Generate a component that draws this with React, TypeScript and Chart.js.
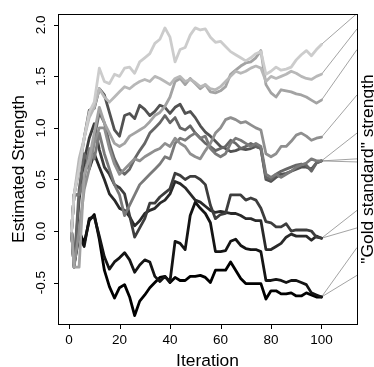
import { useEffect, useRef } from 'react';
import { Chart, registerables } from 'chart.js';

Chart.register(...registerables);

// Iteration numbers at which the estimates were read
const iterations = [1, 2, 4, 6, 8, 10, 12, 14, 16, 18, 20, 22, 24, 26, 28, 30, 32, 34, 36, 38, 40, 42, 44, 46, 48, 50, 52, 54, 56, 58, 60, 62, 64, 66, 68, 70, 72, 74, 76, 78, 80, 82, 84, 86, 88, 90, 92, 94, 96, 98, 100];

// Estimated strength per run (lightest first)
const run11 = [0, 0.35, 0.6, 0.9, 1.15, 1.25, 1.58, 1.45, 1.43, 1.52, 1.5, 1.58, 1.59, 1.53, 1.64, 1.68, 1.72, 1.82, 1.86, 1.97, 1.88, 1.64, 1.76, 1.78, 1.9, 1.97, 1.95, 1.96, 1.88, 1.83, 1.84, 1.79, 1.74, 1.71, 1.68, 1.65, 1.68, 1.72, 1.74, 1.52, 1.55, 1.59, 1.56, 1.57, 1.59, 1.66, 1.71, 1.75, 1.7, 1.76, 1.81];
const run10 = [0, 0.35, 0.7, 0.9, 1.1, 1.2, 1.38, 1.3, 1.25, 1.3, 1.35, 1.4, 1.38, 1.42, 1.45, 1.47, 1.45, 1.5, 1.48, 1.45, 1.42, 1.48, 1.5, 1.45, 1.47, 1.44, 1.4, 1.42, 1.38, 1.37, 1.4, 1.45, 1.5, 1.55, 1.53, 1.55, 1.58, 1.6, 1.58, 1.45, 1.5, 1.48, 1.5, 1.52, 1.55, 1.53, 1.5, 1.48, 1.47, 1.5, 1.52];
const run9 = [0, -0.35, -0.35, 0.55, 0.7, 0.95, 1.2, 1.05, 0.95, 0.85, 0.82, 0.85, 0.92, 0.95, 0.98, 1.01, 1.06, 1.12, 1.15, 1.21, 1.3, 1.45, 1.48, 1.42, 1.48, 1.43, 1.38, 1.42, 1.35, 1.34, 1.36, 1.4, 1.52, 1.56, 1.6, 1.63, 1.64, 1.68, 1.75, 1.42, 1.34, 1.3, 1.37, 1.36, 1.35, 1.33, 1.32, 1.3, 1.27, 1.24, 1.27];
const run8 = [0, -0.35, 0.0, 0.4, 0.6, 0.85, 1.0, 1.0, 0.8, 0.65, 0.55, 0.6, 0.65, 0.7, 0.68, 0.72, 0.75, 0.78, 0.8, 0.85, 0.82, 0.9, 0.85, 0.82, 0.75, 0.72, 0.7, 0.78, 0.85, 0.95, 1.0, 1.08, 1.1, 1.08, 1.05, 1.06, 1.03, 1.0, 0.98, 0.75, 0.72, 0.75, 0.82, 0.82, 0.87, 0.93, 0.95, 0.92, 0.88, 0.9, 0.91];
const run7 = [0, 0.35, 0.35, 0.5, 0.8, 0.7, 0.95, 0.75, 0.6, 0.45, 0.35, 0.15, 0.25, 0.35, 0.45, 0.5, 0.55, 0.6, 0.65, 0.72, 0.7, 0.85, 0.9, 0.88, 0.92, 0.95, 0.9, 0.92, 0.8, 0.75, 0.72, 0.75, 0.85, 0.9, 0.88, 0.85, 0.82, 0.85, 0.82, 0.55, 0.52, 0.55, 0.52, 0.55, 0.58, 0.62, 0.64, 0.66, 0.7, 0.68, 0.68];
const run6 = [0, -0.35, 0.4, 0.75, 0.65, 0.9, 1.15, 1.05, 0.85, 0.7, 0.6, 0.55, 0.6, 0.7, 0.78, 0.85, 0.95, 1.0, 1.05, 1.12, 1.05, 1.1, 1.0, 0.98, 1.02, 0.95, 0.9, 0.85, 0.82, 0.78, 0.8, 0.82, 0.88, 0.85, 0.8, 0.82, 0.85, 0.82, 0.8, 0.52, 0.5, 0.55, 0.58, 0.6, 0.62, 0.64, 0.65, 0.64, 0.58, 0.66, 0.68];
const run5 = [0, 0.35, 0.6, 0.9, 1.17, 1.19, 1.38, 1.32, 1.15, 0.98, 0.92, 1.12, 1.14, 1.09, 1.22, 1.18, 1.12, 1.16, 1.22, 1.2, 1.14, 1.2, 1.23, 1.14, 1.16, 1.1, 1.02, 0.96, 0.92, 0.87, 0.82, 0.8, 0.77, 0.78, 0.8, 0.79, 0.8, 0.82, 0.8, 0.5, 0.48, 0.52, 0.55, 0.56, 0.58, 0.6, 0.62, 0.62, 0.6, 0.66, 0.68];
const run4 = [0, -0.35, 0.3, 0.68, 0.9, 1.04, 0.79, 0.62, 0.55, 0.45, 0.42, 0.36, 0.15, -0.06, 0.03, 0.12, 0.27, 0.27, 0.33, 0.37, 0.41, 0.56, 0.54, 0.5, 0.53, 0.53, 0.5, 0.45, 0.25, 0.12, 0.16, 0.17, 0.35, 0.35, 0.35, 0.3, 0.32, 0.3, 0.22, 0.09, 0.08, 0.04, 0.04, 0.07, 0.0, 0.01, 0.01, 0.01, 0.0, -0.06, -0.07];
const run3 = [0, 0.35, 0.35, 0.7, 0.6, 0.75, 0.62, 0.5, 0.36, 0.3, 0.22, 0.2, 0.14, 0.05, 0.1, 0.17, 0.2, 0.22, 0.27, 0.3, 0.36, 0.48, 0.46, 0.42, 0.36, 0.3, 0.28, 0.24, 0.2, 0.18, 0.19, 0.18, 0.17, 0.17, 0.15, 0.12, 0.12, 0.1, 0.1, -0.18, -0.18, -0.15, -0.12, -0.06, -0.03, -0.05, -0.05, -0.05, -0.09, -0.05, -0.07];
const run2 = [0, -0.33, -0.05, -0.15, 0.12, 0.14, -0.05, -0.25, -0.37, -0.3, -0.26, -0.21, -0.28, -0.4, -0.33, -0.28, -0.3, -0.44, -0.49, -0.44, -0.49, -0.1, -0.12, -0.18, 0.15, 0.28, 0.22, 0.17, 0.08, -0.2, -0.2, -0.19, -0.1, -0.08, -0.14, -0.17, -0.18, -0.18, -0.2, -0.48, -0.48, -0.47, -0.48, -0.5, -0.48, -0.48, -0.5, -0.52, -0.6, -0.62, -0.64];
const run1 = [0, -0.33, 0.0, -0.12, 0.1, 0.16, -0.08, -0.38, -0.54, -0.65, -0.55, -0.52, -0.64, -0.82, -0.68, -0.62, -0.55, -0.5, -0.45, -0.44, -0.5, -0.45, -0.48, -0.48, -0.44, -0.44, -0.43, -0.45, -0.5, -0.38, -0.38, -0.38, -0.3, -0.38, -0.46, -0.51, -0.51, -0.51, -0.51, -0.66, -0.58, -0.58, -0.61, -0.61, -0.6, -0.63, -0.63, -0.6, -0.62, -0.64, -0.64];

const runs = [run11, run10, run9, run8, run7, run6, run5, run4, run3, run2, run1];
const runColors = ['#cccccc', '#b8b8b8', '#a3a3a3', '#8f8f8f', '#7a7a7a', '#666666', '#525252', '#3d3d3d', '#292929', '#141414', '#000000'];

// "Gold standard" strength for each run (same order)
const goldStandard = [2.11, 1.96, 1.76, 1.32, 0.95, 0.7, 0.67, 0.2, 0.03, -0.16, -0.43];

const xTicks = [0, 20, 40, 60, 80, 100];
const yTicks = [-0.5, 0, 0.5, 1, 1.5, 2];
const yTickLabels = ['-0.5', '0.0', '0.5', '1.0', '1.5', '2.0'];

const X_MIN = -4.36;
const X_MAX = 114.06;
const Y_MIN = -0.902;
const Y_MAX = 2.105;

const FONT = '"Liberation Sans", Arial, Helvetica, sans-serif';

const axesPlugin = {
  id: 'rAxes',
  afterDraw(chart: any) {
    const ctx = chart.ctx;
    const { left, top, right, bottom } = chart.chartArea;
    const xs = chart.scales.x;
    const ys = chart.scales.y;
    ctx.save();
    ctx.strokeStyle = '#000';
    ctx.lineWidth = 1;
    ctx.strokeRect(left + 0.5, top + 0.5, right - left, bottom - top);

    ctx.beginPath();
    xTicks.forEach((v) => {
      const px = Math.round(xs.getPixelForValue(v)) + 0.5;
      ctx.moveTo(px, bottom + 0.5);
      ctx.lineTo(px, bottom + 5);
    });
    yTicks.forEach((v) => {
      const py = Math.round(ys.getPixelForValue(v)) + 0.5;
      ctx.moveTo(left + 0.5, py);
      ctx.lineTo(left - 4, py);
    });
    ctx.stroke();

    ctx.fillStyle = '#000';
    ctx.font = `13.5px ${FONT}`;
    ctx.textAlign = 'center';
    ctx.textBaseline = 'alphabetic';
    xTicks.forEach((v) => {
      ctx.fillText(String(v), xs.getPixelForValue(v), bottom + 20.3);
    });
    yTicks.forEach((v, i) => {
      ctx.save();
      ctx.translate(left - 13, ys.getPixelForValue(v));
      ctx.rotate(-Math.PI / 2);
      ctx.fillText(yTickLabels[i], 0, 0);
      ctx.restore();
    });

    ctx.font = `17.4px ${FONT}`;
    const midY = (top + bottom) / 2;
    ctx.fillText('Iteration', (left + right) / 2, 365.5);
    ctx.save();
    ctx.translate(24, midY);
    ctx.rotate(-Math.PI / 2);
    ctx.fillText('Estimated Strength', 0, 0);
    ctx.restore();
    ctx.save();
    ctx.translate(373, midY);
    ctx.rotate(-Math.PI / 2);
    ctx.fillText('"Gold standard" strength', 0, 0);
    ctx.restore();
    ctx.restore();
  },
};

export default function App() {
  const canvasRef = useRef<HTMLCanvasElement | null>(null);

  useEffect(() => {
    document.body.style.margin = '0';
    const canvas = canvasRef.current;
    if (!canvas) return;

    const runDatasets = runs.map((vals, k) => ({
      label: `run ${runs.length - k}`,
      data: iterations.map((it, i) => ({ x: it, y: vals[i] })),
      borderColor: runColors[k],
      borderWidth: 2.8,
      pointRadius: 0,
      tension: 0,
      fill: false,
      borderJoinStyle: 'round' as const,
      borderCapStyle: 'round' as const,
    }));

    const goldDatasets = runs.map((vals, k) => ({
      label: `gold ${runs.length - k}`,
      data: [
        { x: iterations[iterations.length - 1], y: vals[vals.length - 1] },
        { x: X_MAX, y: goldStandard[k] },
      ],
      borderColor: '#8c8c8c',
      borderWidth: 0.8,
      pointRadius: 0,
      tension: 0,
      fill: false,
    }));

    const chart = new Chart(canvas, {
      type: 'line',
      data: { datasets: [...runDatasets, ...goldDatasets] },
      options: {
        responsive: false,
        animation: false,
        devicePixelRatio: 1,
        layout: { padding: { left: 58, top: 14, right: 17, bottom: 43 } },
        plugins: {
          legend: { display: false },
          tooltip: { enabled: false },
          title: { display: false },
        },
        scales: {
          x: { type: 'linear', min: X_MIN, max: X_MAX, display: false },
          y: { type: 'linear', min: Y_MIN, max: Y_MAX, display: false },
        },
      },
      plugins: [axesPlugin],
    });

    return () => chart.destroy();
  }, []);

  return (
    <div style={{ position: 'absolute', left: 0, top: 0, width: 374, height: 367, background: '#fff' }}>
      <canvas ref={canvasRef} width={374} height={367} style={{ width: 374, height: 367, display: 'block' }} />
    </div>
  );
}
